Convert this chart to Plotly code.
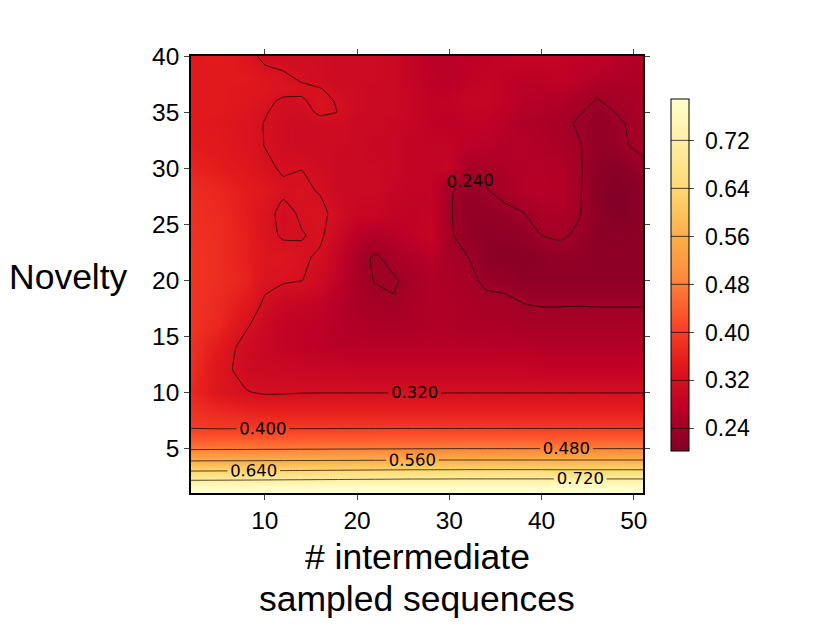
import plotly.graph_objects as go

x_values = [2,5,8,10,12,14,16,18,20,22,24,26,28,30,32,34,36,38,40,42,44,46,48,51]
y_values = [1,2,3,4,5,6,7,8,9,10,12,14,16,18,20,22,24,26,28,30,32,34,35,36,37,38,40]

z_values = [
 [.820,.820,.820,.822,.824,.826,.828,.830,.830,.832,.832,.834,.834,.834,.836,.836,.836,.836,.836,.836,.836,.836,.836,.836],
 [.733,.734,.735,.736,.737,.738,.739,.740,.741,.742,.743,.744,.744,.745,.745,.745,.745,.745,.745,.745,.745,.745,.745,.745],
 [.636,.637,.638,.639,.640,.641,.642,.643,.644,.645,.646,.647,.647,.647,.648,.648,.648,.648,.648,.647,.647,.647,.647,.647],
 [.548,.549,.549,.550,.550,.551,.551,.552,.552,.553,.553,.554,.554,.555,.555,.555,.555,.555,.555,.555,.555,.555,.555,.555],
 [.470,.471,.471,.472,.472,.473,.473,.474,.474,.475,.475,.476,.476,.477,.477,.477,.477,.477,.477,.477,.477,.477,.477,.477],
 [.427,.427,.428,.428,.428,.429,.429,.430,.430,.430,.431,.431,.431,.432,.432,.432,.432,.432,.432,.432,.432,.432,.432,.432],
 [.392,.390,.390,.390,.390,.390,.390,.390,.390,.390,.390,.390,.390,.390,.390,.390,.390,.390,.390,.390,.390,.390,.390,.390],
 [.385,.375,.368,.365,.365,.365,.365,.365,.365,.365,.365,.365,.365,.365,.365,.365,.365,.365,.365,.365,.365,.365,.365,.365],
 [.375,.355,.345,.340,.340,.340,.340,.340,.340,.340,.340,.340,.340,.340,.340,.340,.340,.340,.340,.340,.340,.340,.340,.340],
 [.365,.335,.322,.315,.316,.318,.3185,.3185,.3185,.3185,.3185,.3185,.3185,.3185,.3185,.3185,.3185,.3185,.3185,.3185,.3185,.3185,.3185,.3185],
 [.375,.335,.305,.300,.300,.295,.295,.295,.290,.290,.290,.290,.290,.290,.290,.290,.290,.290,.285,.285,.285,.285,.285,.285],
 [.380,.345,.305,.295,.285,.280,.275,.270,.270,.270,.270,.270,.270,.270,.270,.270,.268,.268,.265,.265,.265,.265,.265,.265],
 [.385,.365,.325,.300,.285,.280,.275,.265,.260,.255,.255,.255,.260,.260,.255,.255,.255,.250,.250,.250,.250,.250,.250,.250],
 [.385,.370,.345,.315,.295,.290,.285,.265,.252,.248,.242,.255,.260,.260,.255,.250,.248,.2395,.2375,.2375,.238,.2375,.2375,.2375],
 [.385,.375,.360,.330,.325,.321,.305,.280,.250,.2385,.237,.250,.260,.255,.250,.232,.228,.220,.220,.220,.220,.220,.220,.220],
 [.385,.375,.355,.335,.335,.325,.315,.285,.250,.236,.250,.260,.270,.250,.241,.220,.215,.215,.220,.225,.225,.220,.220,.220],
 [.380,.375,.355,.330,.316,.3185,.325,.300,.270,.260,.270,.280,.290,.245,.225,.220,.220,.225,.240,.245,.235,.218,.215,.220],
 [.380,.370,.350,.330,.312,.324,.327,.310,.295,.295,.285,.280,.285,.243,.225,.225,.232,.2395,.255,.258,.243,.220,.205,.215],
 [.375,.365,.350,.340,.325,.325,.318,.300,.300,.300,.290,.285,.285,.243,.230,.238,.250,.265,.270,.265,.245,.215,.205,.215],
 [.360,.350,.340,.325,.317,.3195,.310,.300,.300,.300,.295,.285,.285,.290,.245,.252,.260,.265,.265,.260,.245,.220,.212,.232],
 [.350,.345,.330,.3195,.310,.305,.305,.305,.300,.295,.295,.285,.285,.285,.275,.270,.265,.265,.260,.255,.243,.225,.232,.248],
 [.345,.340,.330,.319,.310,.305,.310,.310,.300,.300,.295,.290,.280,.275,.280,.280,.270,.260,.255,.250,.236,.225,.235,.250],
 [.345,.345,.335,.322,.312,.310,.325,.3195,.305,.300,.300,.290,.280,.280,.285,.285,.275,.265,.260,.255,.243,.230,.2405,.250],
 [.345,.345,.340,.328,.315,.317,.328,.317,.305,.300,.300,.290,.280,.280,.290,.290,.280,.270,.265,.260,.250,.2385,.245,.252],
 [.345,.345,.340,.335,.330,.325,.322,.310,.305,.300,.300,.290,.280,.275,.285,.290,.280,.270,.270,.270,.265,.248,.252,.252],
 [.345,.345,.345,.335,.325,.317,.310,.305,.305,.305,.300,.285,.275,.270,.280,.285,.280,.275,.275,.280,.275,.265,.260,.255],
 [.345,.350,.335,.310,.310,.310,.310,.305,.305,.305,.300,.285,.270,.270,.275,.280,.285,.290,.290,.285,.280,.280,.270,.260],
]

colorscale = [[0,'#800026'],[.125,'#bd0026'],[.25,'#e31a1c'],[.375,'#fc4e2a'],[.5,'#fd8d3c'],
              [.625,'#feb24c'],[.75,'#fed976'],[.875,'#ffeda0'],[1,'#ffffcc']]
x_ticks = [10,20,30,40,50]
y_ticks = [5,10,15,20,25,30,35,40]
cb_ticks = [.24,.32,.40,.48,.56,.64,.72]
FONT = 'Liberation Sans'

fig = go.Figure(go.Contour(
    x=x_values, y=y_values, z=z_values, zmin=.2015, zmax=.789, colorscale=colorscale,
    autocontour=False,
    contours=dict(start=.24, end=.72, size=.08, coloring='heatmap', showlabels=True,
                  labelformat='.3f', labelfont=dict(size=16.5, family='DejaVu Sans', color='black')),
    line=dict(color='black', width=.7, smoothing=.3),
    colorbar=dict(lenmode='pixels', len=352, thickness=18, thicknessmode='pixels',
                  x=(672-190.5)/453, xanchor='left', xpad=0, ypad=0,
                  y=(493.5-99)/438, yanchor='top', tickvals=cb_ticks,
                  ticktext=['\u00a0%.2f' % v for v in cb_ticks],
                  ticks='outside', ticklen=5, tickfont=dict(size=23, family=FONT, color='black'),
                  outlinecolor='black', outlinewidth=1),
))
axis = dict(ticks='outside', ticklen=5, showgrid=False, zeroline=False, showline=True, mirror='allticks',
            linecolor='black', linewidth=1.5, tickfont=dict(size=24.5, family=FONT, color='black'))
fig.update_xaxes(range=[2, 51], tickvals=x_ticks, **axis)
fig.update_yaxes(range=[1, 40], tickvals=y_ticks, **axis)
title_font = dict(size=35.5, family=FONT, color='black')
fig.update_layout(
    width=822, height=618, margin=dict(l=182.5, r=186.5, t=47.5, b=132.5),
    paper_bgcolor='white', plot_bgcolor='white', showlegend=False,
    annotations=[
        dict(text='Novelty', xref='paper', yref='paper', x=(68-190.5)/453, y=(493.5-277)/438, showarrow=False,
             xanchor='center', yanchor='middle', font=title_font),
        dict(text='# intermediate', xref='paper', yref='paper', x=(417-190.5)/453, y=(493.5-558)/438, showarrow=False,
             xanchor='center', yanchor='middle', font=title_font),
        dict(text='sampled sequences', xref='paper', yref='paper', x=(417.5-190.5)/453, y=(493.5-600)/438, showarrow=False,
             xanchor='center', yanchor='middle', font=title_font),
    ],
)
fig.write_html("out.html")
